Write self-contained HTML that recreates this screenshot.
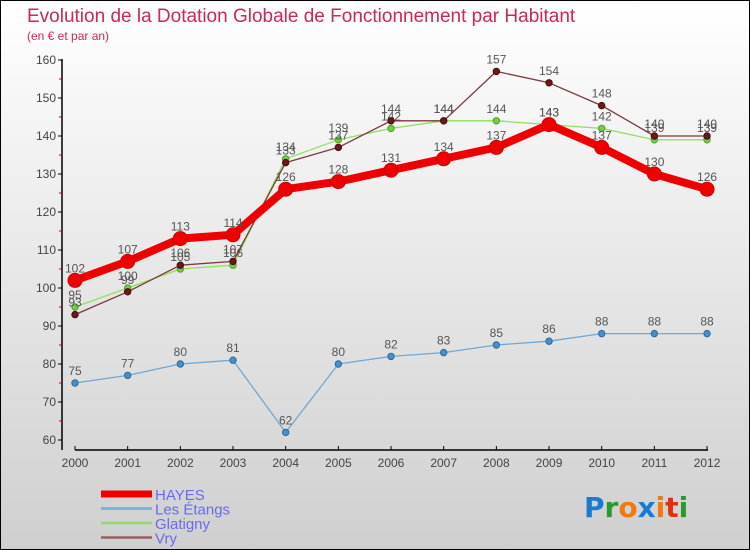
<!DOCTYPE html>
<html><head><meta charset="utf-8"><style>
html,body{margin:0;padding:0}
body{width:750px;height:550px;overflow:hidden;font-family:"Liberation Sans",sans-serif}
#wrap{position:relative;width:748px;height:548px;border:1px solid #000;background:linear-gradient(#ffffff,#cfcfcf)}
</style></head><body>
<div id="wrap">
<svg id="chart" width="748" height="548" style="position:absolute;left:0;top:0"></svg>
</div>
<script>
const years=["2000","2001","2002","2003","2004","2005","2006","2007","2008","2009","2010","2011","2012"];
const hayes=[102,107,113,114,126,128,131,134,137,143,137,130,126];
const etangs=[75,77,80,81,62,80,82,83,85,86,88,88,88];
const glatigny=[95,100,105,106,134,139,142,144,144,143,142,139,139];
const vry=[93,99,106,107,133,137,144,144,157,154,148,140,140];
const yTicks=[60,70,80,90,100,110,120,130,140,150,160];
const NS="http://www.w3.org/2000/svg";
const svg=document.getElementById('chart');
const X=i=>74+i*52.67;
const Y=v=>439-(v-60)*3.8;
function mk(tag,attrs,parent){const e=document.createElementNS(NS,tag);for(const k in attrs)e.setAttribute(k,attrs[k]);(parent||svg).appendChild(e);return e;}
function txt(x,y,s,size,fill,anchor){const t=mk('text',{x:x,y:y,'font-size':size,fill:fill,'text-anchor':anchor||'middle'});t.textContent=s;return t;}
let t=txt(26,21,"Evolution de la Dotation Globale de Fonctionnement par Habitant",19,"#c8285a","start");


t=txt(26,39,"(en € et par an)",12,"#c8285a","start");


// axes
let ax=mk('line',{x1:61,y1:58,x2:61,y2:449,stroke:'#000','stroke-width':1.5});


ax=mk('line',{x1:74,y1:449,x2:707,y2:449,stroke:'#000','stroke-width':1.5});


yTicks.forEach(v=>{
  mk('line',{x1:57,y1:Y(v),x2:61,y2:Y(v),stroke:'#000'});
  if(v<160) mk('line',{x1:58,y1:Y(v+5),x2:61,y2:Y(v+5),stroke:'#d00'});
  const l=txt(55,Y(v)+4,String(v),12,'#444','end');
  
  
});
years.forEach((y,i)=>{
  mk('line',{x1:X(i),y1:445,x2:X(i),y2:449,stroke:'#000'});
  const l=txt(X(i),466,y,12,'#444');
  
  
});
function series(data,name,color,w,r,dot,dotStroke){
  const g=mk('g',{});
  
  
  mk('polyline',{points:data.map((v,i)=>X(i)+','+Y(v)).join(' '),fill:'none',stroke:color,'stroke-width':w,'stroke-linejoin':'round'},g);
  data.forEach((v,i)=>{
    const c=mk('circle',{cx:X(i),cy:Y(v),r:r,fill:dot,stroke:dotStroke,'stroke-width':1},g);
    
    
    const l=txt(X(i),Y(v)-8,String(v),12,'#555');
    g.appendChild(l);
    
    
  });
}
series(etangs,'les-etangs','#6fa8d6',1.3,3.2,'#4a90c8','#2a6aa0');
series(glatigny,'glatigny','#90e060',1.3,3.2,'#70d040','#50a030');
series(vry,'vry','#7a3a3a',1.3,3.2,'#6a1a1a','#4a0a0a');
series(hayes,'hayes','#ee0000',8,7,'#ee0000','#cc0000');
// legend
const leg=[['HAYES','#ee0000',7],['Les Étangs','#7aaad0',2.5],['Glatigny','#90d870',2.5],['Vry','#9a6060',2.5]];
leg.forEach((d,i)=>{
  const g=mk('g',{});
  
  
  const y=493+i*14.5;
  mk('line',{x1:100,y1:y,x2:151,y2:y,stroke:d[1],'stroke-width':d[2]},g);
  const l=txt(154,y+6,d[0],15,'#6a6af0','start');g.appendChild(l);
});
// logo
const lg=mk('text',{x:583,y:516,'font-size':28,'font-family':'"DejaVu Sans",sans-serif','font-weight':'bold'});


[['P','#1a7ad0'],['r','#2a9a30'],['o','#f07a10'],['x','#1a7ad0'],['i','#f07a10'],['t','#e03010'],['i','#2a9a30']].forEach(p=>{const s=mk('tspan',{fill:p[1]},lg);s.textContent=p[0];});
</script>
</body></html>
